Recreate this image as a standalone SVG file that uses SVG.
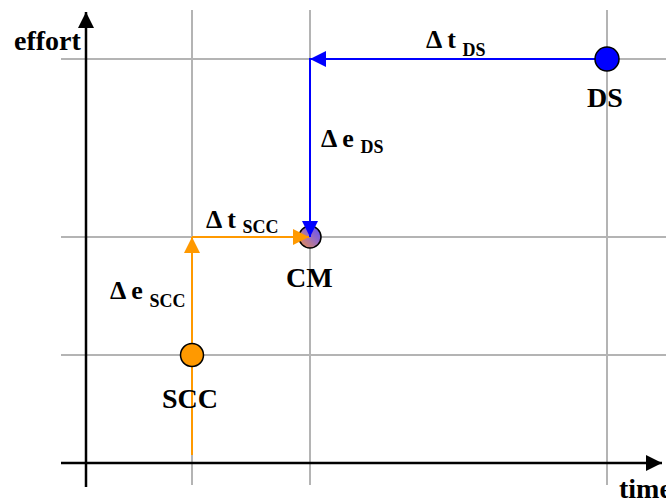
<svg xmlns="http://www.w3.org/2000/svg" width="666" height="503" viewBox="0 0 666 503">
<style>
.grid{stroke:#b4b4b4;stroke-width:2;fill:none}
.axis{stroke:#000;stroke-width:2.5;fill:none}
.or{stroke:#ff9900;stroke-width:2;fill:none}
.bl{stroke:#0000ff;stroke-width:2;fill:none}
.lbl{font-family:"Liberation Serif","Times New Roman",serif;font-weight:bold;fill:#000}
.big{font-size:28px}
.mid{font-size:26px}
.sub{font-size:18px}
.node{stroke:#000;stroke-width:1.5}
</style>
<defs>
<marker id="ak" viewBox="0 0 16 16" refX="16" refY="8" markerWidth="16" markerHeight="16" markerUnits="userSpaceOnUse" orient="auto"><path d="M0,0 L16,8 L0,16 z" fill="#000"/></marker>
<marker id="ao" viewBox="0 0 16 16" refX="16" refY="8" markerWidth="16" markerHeight="16" markerUnits="userSpaceOnUse" orient="auto"><path d="M0,0 L16,8 L0,16 z" fill="#ff9900"/></marker>
<marker id="ab" viewBox="0 0 16 16" refX="16" refY="8" markerWidth="16" markerHeight="16" markerUnits="userSpaceOnUse" orient="auto"><path d="M0,0 L16,8 L0,16 z" fill="#0000ff"/></marker>
<linearGradient id="cmg" x1="1" y1="0" x2="0" y2="1">
<stop offset="0" stop-color="#5a4cff"/>
<stop offset="0.5" stop-color="#a070b8"/>
<stop offset="1" stop-color="#f09040"/>
</linearGradient>
</defs>
<g id="grid">
<line class="grid" x1="61" y1="59" x2="666" y2="59"/>
<line class="grid" x1="61" y1="237" x2="666" y2="237"/>
<line class="grid" x1="61" y1="355" x2="666" y2="355"/>
<line class="grid" x1="192" y1="10" x2="192" y2="485"/>
<line class="grid" x1="310" y1="10" x2="310" y2="485"/>
<line class="grid" x1="607" y1="10" x2="607" y2="485"/>
</g>
<g id="axes">
<line class="axis" x1="86" y1="487" x2="86" y2="12" marker-end="url(#ak)"/>
<line class="axis" x1="61" y1="463" x2="662" y2="463" marker-end="url(#ak)"/>
</g>
<g id="node-cm"><circle class="node" cx="310" cy="237" r="11" fill="url(#cmg)"/></g>
<g id="connectors">
<line class="or" x1="192" y1="455" x2="192" y2="237" marker-end="url(#ao)"/>
<line class="or" x1="192" y1="237" x2="309" y2="237" marker-end="url(#ao)"/>
<line class="bl" x1="600" y1="59" x2="310" y2="59" marker-end="url(#ab)"/>
<line class="bl" x1="310" y1="58" x2="310" y2="237" marker-end="url(#ab)"/>
</g>
<g id="node-scc"><circle class="node" cx="192" cy="355" r="11.5" fill="#ff9900"/></g>
<g id="node-ds"><circle class="node" cx="607" cy="59" r="12" fill="#0000ff"/></g>
<g id="labels">
<text class="lbl big" x="14" y="50">effort</text>
<text class="lbl big" x="619" y="498">time</text>
<text class="lbl big" x="587" y="107">DS</text>
<text class="lbl big" x="286" y="287">CM</text>
<text class="lbl big" x="162" y="408">SCC</text>
<text class="lbl mid" x="426" y="48">Δ t <tspan class="sub" dy="8">DS</tspan></text>
<text class="lbl mid" x="321" y="147">Δ e <tspan class="sub" dy="6">DS</tspan></text>
<text class="lbl mid" x="206" y="228">Δ t <tspan class="sub" dy="5">SCC</tspan></text>
<text class="lbl mid" x="110" y="299">Δ e <tspan class="sub" dy="8">SCC</tspan></text>
</g>
</svg>
